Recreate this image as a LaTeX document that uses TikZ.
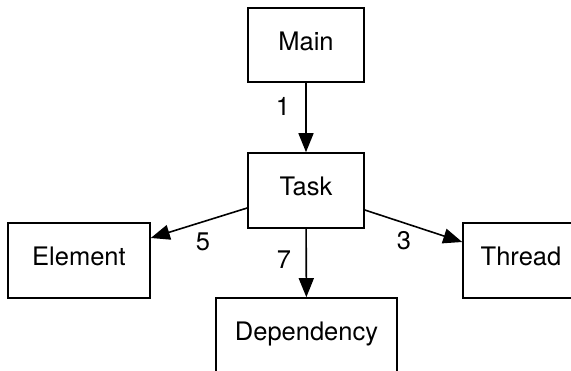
\documentclass[tikz,border=0pt]{standalone}
\usepackage{fontspec}
\setmainfont{TeX Gyre Heros}
\usetikzlibrary{arrows.meta}
\begin{document}
\begin{tikzpicture}[x=1pt,y=-1pt,
  every node/.style={font=\fontsize{25.5}{30}\selectfont, text height=1.05em, text depth=0pt, inner sep=0pt},
  box/.style={draw, line width=1.6pt, minimum height=74pt},
  lab/.style={},
  conn/.style={line width=1.6pt, -{Triangle[length=19pt,width=15pt]}}]
\useasboundingbox (0,0) rectangle (571,371);
\node[box, minimum width=116pt] (main) at (306,45) {Main};
\node[box, minimum width=116pt, minimum height=75pt] (task) at (306,190.5) {Task};
\node[box, minimum width=142pt, minimum height=75pt] (element) at (79,260.5) {Element};
\node[box, minimum width=181pt] (dep) at (306.5,335) {Dependency};
\node[box, minimum width=116pt, minimum height=75pt] (thread) at (521,260.5) {Thread};
\draw[conn] (main) -- (task);
\draw[conn] ([yshift=-17.5pt]task.west) -- ([yshift=22.5pt]element.east);
\draw[conn] ([yshift=-19.5pt]task.east) -- ([yshift=18.5pt]thread.west);
\draw[conn] (task) -- (dep);
\node[lab] (l1) at (283,110) {1};
\node[lab] (l5) at (203,245) {5};
\node[lab] (l7) at (284,263) {7};
\node[lab] (l3) at (404,244) {3};
\end{tikzpicture}
\end{document}
